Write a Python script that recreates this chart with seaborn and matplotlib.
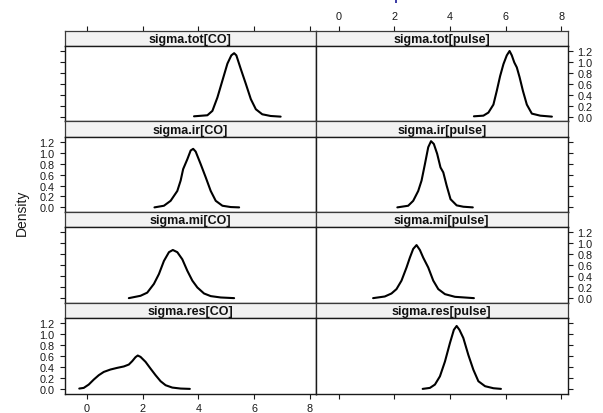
import matplotlib
matplotlib.use("Agg")
import matplotlib.pyplot as plt
from matplotlib.patches import Rectangle
import pandas as pd
import seaborn as sns

sns.set_theme(style="white")
plt.rcParams["font.family"] = ["Liberation Sans", "DejaVu Sans"]

# Posterior density curves (x, density) for each variance component
tot_co_x = [3.84, 4.32, 4.50, 4.68, 4.86, 5.04, 5.18, 5.28, 5.36, 5.52, 5.70, 5.88, 6.06, 6.29, 6.59, 6.95]
tot_co_y = [0.006, 0.025, 0.105, 0.35, 0.66, 0.97, 1.12, 1.16, 1.12, 0.87, 0.60, 0.32, 0.135, 0.043, 0.012, 0.0]

tot_pulse_x = [4.86, 5.20, 5.38, 5.56, 5.68, 5.80, 5.92, 6.04, 6.14, 6.22, 6.31, 6.40, 6.50, 6.62, 6.76, 6.94, 7.24, 7.66]
tot_pulse_y = [0.006, 0.018, 0.074, 0.22, 0.47, 0.74, 0.96, 1.12, 1.20, 1.12, 0.99, 0.90, 0.72, 0.47, 0.22, 0.055, 0.018, 0.0]

ir_co_x = [2.42, 2.76, 3.00, 3.24, 3.36, 3.45, 3.60, 3.72, 3.81, 3.90, 4.08, 4.26, 4.44, 4.62, 4.86, 5.16, 5.46]
ir_co_y = [0.0, 0.03, 0.12, 0.30, 0.49, 0.70, 0.88, 1.04, 1.07, 1.02, 0.79, 0.55, 0.30, 0.12, 0.03, 0.006, 0.0]

ir_pulse_x = [2.11, 2.50, 2.68, 2.86, 2.98, 3.10, 3.22, 3.32, 3.42, 3.54, 3.66, 3.76, 3.88, 4.02, 4.24, 4.48, 4.82]
ir_pulse_y = [0.0, 0.03, 0.12, 0.30, 0.49, 0.79, 1.10, 1.21, 1.16, 0.98, 0.73, 0.64, 0.40, 0.15, 0.037, 0.012, 0.0]

mi_co_x = [1.50, 1.92, 2.16, 2.40, 2.58, 2.76, 2.94, 3.08, 3.24, 3.42, 3.60, 3.78, 3.96, 4.20, 4.44, 4.80, 5.28]
mi_co_y = [0.0, 0.043, 0.10, 0.26, 0.44, 0.68, 0.84, 0.88, 0.84, 0.71, 0.50, 0.32, 0.195, 0.085, 0.037, 0.012, 0.0]

mi_pulse_x = [1.24, 1.66, 1.90, 2.08, 2.26, 2.44, 2.56, 2.68, 2.80, 2.92, 3.04, 3.22, 3.40, 3.58, 3.82, 4.18, 4.86]
mi_pulse_y = [0.0, 0.03, 0.085, 0.165, 0.32, 0.56, 0.74, 0.90, 0.97, 0.88, 0.74, 0.56, 0.32, 0.165, 0.073, 0.024, 0.0]

res_co_x = [-0.28, -0.12, 0.06, 0.24, 0.42, 0.60, 0.84, 1.08, 1.32, 1.50, 1.62, 1.74, 1.82, 1.92,
            2.10, 2.28, 2.46, 2.64, 2.82, 3.06, 3.36, 3.69]
res_co_y = [0.006, 0.018, 0.079, 0.17, 0.25, 0.31, 0.354, 0.384, 0.41, 0.445, 0.506, 0.58, 0.61, 0.585,
            0.494, 0.37, 0.25, 0.14, 0.067, 0.024, 0.006, 0.0]

res_pulse_x = [3.02, 3.28, 3.46, 3.64, 3.82, 4.00, 4.14, 4.24, 4.34, 4.48, 4.66, 4.84, 5.02, 5.26, 5.56, 5.83]
res_pulse_y = [0.0, 0.018, 0.079, 0.23, 0.50, 0.84, 1.08, 1.15, 1.08, 0.93, 0.62, 0.35, 0.14, 0.049, 0.012, 0.0]

# panel grid: rows top to bottom, columns CO | pulse
panels = [
    [("sigma.tot[CO]", tot_co_x, tot_co_y), ("sigma.tot[pulse]", tot_pulse_x, tot_pulse_y)],
    [("sigma.ir[CO]", ir_co_x, ir_co_y), ("sigma.ir[pulse]", ir_pulse_x, ir_pulse_y)],
    [("sigma.mi[CO]", mi_co_x, mi_co_y), ("sigma.mi[pulse]", mi_pulse_x, mi_pulse_y)],
    [("sigma.res[CO]", res_co_x, res_co_y), ("sigma.res[pulse]", res_pulse_x, res_pulse_y)],
]

x_ticks = [0, 2, 4, 6, 8]
y_ticks = [0.0, 0.2, 0.4, 0.6, 0.8, 1.0, 1.2]
x_range = (-0.81, 8.22)
y_range = (-0.088, 1.293)

W, H = 603, 414
fig = plt.figure(figsize=(W / 100, H / 100), dpi=100)
fig.patch.set_facecolor("white")


def px_axes(x, y, w, h):
    """Add axes given a pixel box measured from the top-left corner."""
    return fig.add_axes([x / W, 1 - (y + h) / H, w / W, h / H])


col_left = [64.5, 316.0]
col_w = 251.5
top = 31.7
row_h = 90.75
strip_h = 15.2
edge = "#1a1a1a"
tick_fs = 7.8
tick_len = 3.7

for r, row in enumerate(panels):
    for c, (name, xs, ys) in enumerate(row):
        y0 = top + r * row_h
        # strip with the panel name
        sax = px_axes(col_left[c], y0, col_w, strip_h)
        sax.set_facecolor("#F2F2F2")
        sax.set_xlim(*x_range)
        sax.set_yticks([])
        if r == 0:
            # top axis of the layout sits above the strips
            sax.set_xticks(x_ticks)
            sax.set_xticklabels([str(t) for t in x_ticks])
            sax.tick_params(axis="x", direction="out", length=tick_len, width=0.8,
                            color=edge, labelsize=tick_fs, labelcolor="#1a1a1a", pad=3.2,
                            bottom=False, labelbottom=False,
                            top=True, labeltop=(c == 1))
        else:
            sax.set_xticks([])
        for sp in sax.spines.values():
            sp.set_color("#3a3a3a")
            sp.set_linewidth(0.9)
        sax.text(0.5, 0.47, name, transform=sax.transAxes, ha="center", va="center",
                 fontsize=9, fontweight="bold", color="#111111")

        # density panel
        ax = px_axes(col_left[c], y0 + strip_h, col_w, row_h - strip_h)
        df = pd.DataFrame({"x": xs, "density": ys})
        sns.lineplot(data=df, x="x", y="density", ax=ax, color="black",
                     linewidth=1.5, estimator=None, sort=False)
        ax.set_xlim(*x_range)
        ax.set_ylim(*y_range)
        ax.set_xlabel("")
        ax.set_ylabel("")
        ax.set_facecolor("white")
        for sp in ax.spines.values():
            sp.set_color(edge)
            sp.set_linewidth(1.0)

        ax.set_xticks(x_ticks)
        ax.set_xticklabels([str(t) for t in x_ticks])
        ax.set_yticks(y_ticks)
        ax.set_yticklabels([f"{t:.1f}" for t in y_ticks])
        ax.tick_params(axis="both", which="both", direction="out", length=tick_len,
                       width=0.8, color=edge, labelsize=tick_fs, labelcolor="#1a1a1a")
        ax.tick_params(axis="x", pad=3.0,
                       bottom=(r == 3), labelbottom=(r == 3 and c == 0),
                       top=False, labeltop=False)
        ax.tick_params(axis="y", pad=3.6,
                       left=(c == 0), labelleft=(c == 0 and r in (1, 3)),
                       right=(c == 1), labelright=(c == 1 and r in (0, 2)))

fig.text(21.7 / W, 1 - 213 / H, "Density", rotation=90, ha="center", va="center",
         fontsize=10, color="#1a1a1a")

# small blue marker at the top edge
fig.patches.append(Rectangle((394.5 / W, 1 - 4.0 / H), 2.2 / W, 4.0 / H,
                             transform=fig.transFigure, facecolor="#3f3fa6",
                             edgecolor="none"))

fig.savefig("out.png", dpi=100, facecolor="white")
